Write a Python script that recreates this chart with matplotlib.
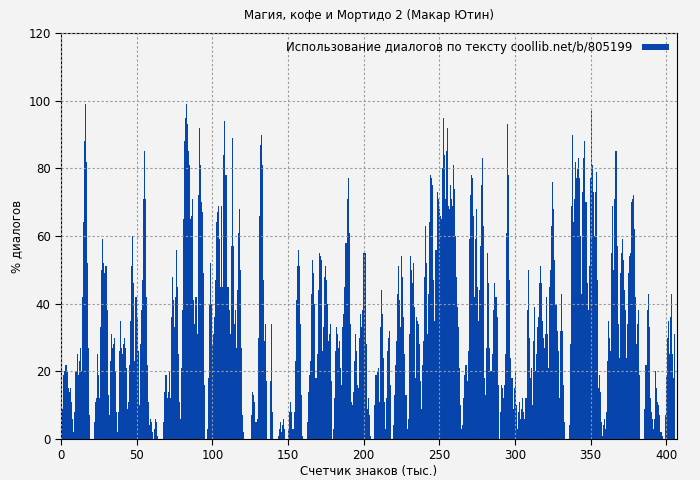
import numpy as np
import matplotlib
matplotlib.use("Agg")
import matplotlib.pyplot as plt

title = "Магия, кофе и Мортидо 2 (Макар Ютин)"
xlabel = "Счетчик знаков (тыс.)"
ylabel = "% диалогов"
legend_label = "Использование диалогов по тексту coollib.net/b/805199"
x_max = 407

seg1 = [5,9,19,20,22,22,20,15,14,15,11,6,2,8,20,25,19,23,27,20,42,64,88,99,82,52,27,7,0,0,0,0,
        5,11,12,25,19,12,33,50,59,52,49,51,38,13,7,23,31,27,28,30,20,8,2,8,26,35,27,25,28,30,27,21,
        9,11,22,35,51,60,46,23,42,36,26,10,28,38,47,71,85,71,42,22,11,4,6,5,2,0,3,6,5,1,0,0,0,0,0,
        5,14,19,12]
seg2 = [14,20,12,36,48,41,33,42,56,45,25,11,6,21,38,65,88,95,99,93,85,81,65,66,71,41,34,42,31,72,
        92,81,70,67,49,16,0,0,3,18,40,52,40,28,31,36,47,64,67,69,59,45,69,45,84,94,78,45,45,38,31,
        57,89,57,34,38,27,44,61,68,50,27,7,2,0,0,0,0,0,0,0,7,14,13,11,5,6,30,66,87,90,81,47,29,34,
        17,0,0,0,17,34,8]
seg3 = [0,0,0,0,0,1,3,5,2,4,6,3,0,0,3,8,11,8,3,3,8,23,41,51,56,51,34,13,1,0,0,0,0,5,14,19,23,43,
        53,49,40,18,25,44,55,54,53,26,33,48,51,47,40,29,31,34,17,0,3,12,26,33,31,27,29,21,16,33,37,
        45,58,71,77,61,34,11,10,14,23,31,26,16,15,30,37,33,38,55,55,55,28,9,12,7,1,0,0,0,10,19,20,
        21,11,33,44,37,24]
seg4 = [11,3,12,26,30,32,16,0,0,4,13,22,29,43,51,41,33,54,48,36,25,13,3,6,31,54,50,46,52,39,18,36,
        35,34,28,17,9,22,29,48,63,52,31,43,64,78,77,75,47,35,56,73,71,68,66,65,80,95,84,71,85,92,69,
        68,75,71,69,81,74,60,48,39,33,21,10,3,4,12,19,22,17,26,59,72,78,77,66,42,59,68,45,35,44,57,
        75,83,63,18,13,27,55,46,27]
seg5 = [20,20,25,38,46,42,36,16,0,8,16,15,12,16,25,61,93,78,47,24,18,18,9,15,20,10,3,8,11,6,9,12,8,
        6,12,38,50,30,18,21,10,29,39,20,25,33,36,46,51,46,35,30,27,31,42,31,21,45,50,63,76,68,53,40,
        32,26,12,32,43,32,16,5,0,0,0,0,4,28,69,90,64,71,82,77,80,83,77,60,43,73,83,88,70,46,38,51,
        77,97,81,73,60,73,79,47]
seg6 = [15,19,14,5,1,4,6,3,8,23,35,30,26,55,69,50,71,85,57,34,24,49,55,59,53,44,38,24,34,49,54,55,
        70,71,72,62,42,28,34,38,19,0,0,0,0,9,22,38,43,33,12,8,6,3,6,20,15,11,10,7,2,2,1,0,0,7,19,30,
        35,25,36,43,25,18,31]

values = np.array(seg1 + seg2 + seg3 + seg4 + seg5 + seg6, dtype=float)
n = len(values)
step = (x_max - 1) / n
x = np.arange(n) * step

bg = "#f3f3f3"
color = "#0745ad"
fig = plt.figure(figsize=(7, 4.8), dpi=100, facecolor=bg)
ax = fig.add_axes([61/700, 1-439/480, 616/700, 406/480])
ax.set_facecolor(bg)
ax.bar(x, values, width=step, align="edge", color=color, linewidth=0, label=legend_label)
ax.set_xlim(0, x_max)
ax.set_ylim(0, 120)
ax.set_xticks(range(0, 401, 50))
ax.set_yticks(range(0, 121, 20))
ax.grid(True, color="#999999", linestyle=(0, (2, 2)), linewidth=0.8)
ax.set_axisbelow(False)
for s in ax.spines.values():
    s.set_color("black")
ax.tick_params(labelsize=8.5, length=4)
ax.set_title(title, fontsize=8.5, pad=10)
ax.set_xlabel(xlabel, fontsize=8.5, labelpad=2)
ax.set_ylabel(ylabel, fontsize=8.5)
leg = ax.legend(loc="upper right", frameon=False, fontsize=8.5, markerfirst=False,
                handlelength=2.3, handleheight=0.5, borderaxespad=0.3)
fig.savefig("out.png", dpi=100, facecolor=bg)
